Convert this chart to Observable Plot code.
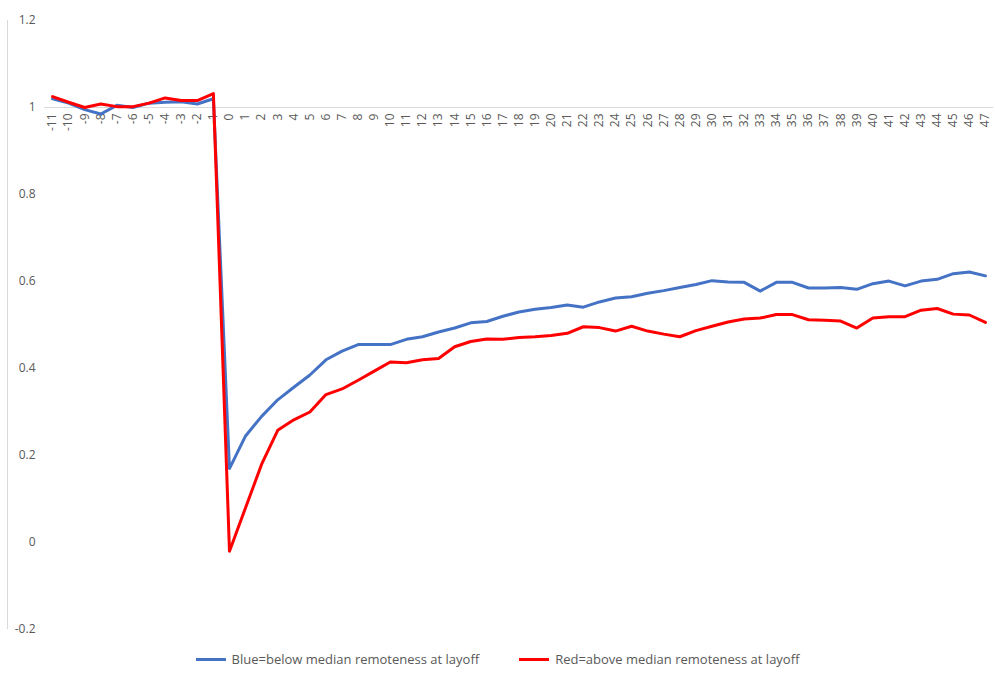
<!DOCTYPE html>
<html>
<head>
<meta charset="utf-8">
<script src="https://cdn.jsdelivr.net/npm/d3@7"></script>
<script src="https://cdn.jsdelivr.net/npm/@observablehq/plot@0.6"></script>
<style>
  body { margin: 0; background: white; font-family: "Open Sans", sans-serif; }
  #chart { position: relative; width: 995px; }
  .legend { display: flex; justify-content: center; gap: 40px; font-size: 13px; color: #595959; margin-top: 0px; }
  .legend span { display: flex; align-items: center; gap: 6px; }
  .legend i { display: inline-block; width: 30px; height: 3px; }
</style>
</head>
<body>
<div id="chart"></div>
<script>
const months = d3.range(-11, 48);
const blue = [1.02, 1.01, 0.995, 0.985, 1.005, 1.0, 1.01, 1.012, 1.013, 1.008, 1.02,
  0.17, 0.245, 0.29, 0.328, 0.357, 0.385, 0.42, 0.44, 0.455, 0.455, 0.455, 0.467, 0.473, 0.484, 0.493,
  0.505, 0.508, 0.52, 0.53, 0.536, 0.54, 0.546, 0.541, 0.553, 0.562, 0.565, 0.573, 0.579, 0.586, 0.593,
  0.602, 0.599, 0.598, 0.578, 0.598, 0.598, 0.585, 0.585, 0.586, 0.582, 0.595, 0.601, 0.59, 0.601,
  0.605, 0.618, 0.622, 0.613];
const red = [1.025, 1.012, 1.0, 1.008, 1.002, 1.002, 1.01, 1.022, 1.016, 1.016, 1.032,
  -0.02, 0.08, 0.18, 0.258, 0.282, 0.3, 0.34, 0.353, 0.373, 0.394, 0.415, 0.413, 0.42, 0.423, 0.45,
  0.462, 0.468, 0.467, 0.471, 0.473, 0.476, 0.481, 0.496, 0.494, 0.486, 0.497, 0.486, 0.479, 0.473,
  0.487, 0.497, 0.507, 0.514, 0.516, 0.524, 0.524, 0.512, 0.511, 0.509, 0.493, 0.516, 0.519, 0.519,
  0.534, 0.538, 0.525, 0.523, 0.506];
const yTicks = [-0.2, 0, 0.2, 0.4, 0.6, 0.8, 1, 1.2];

const rows = months.flatMap((m, i) => [
  {m, v: blue[i], s: "blue"},
  {m, v: red[i], s: "red"}
]);

const chart = Plot.plot({
  width: 995,
  height: 650,
  marginLeft: 44,
  marginRight: 2,
  marginTop: 20,
  marginBottom: 21,
  x: {domain: [-11.5, 47.5], axis: null},
  y: {domain: [-0.2, 1.2], ticks: yTicks, tickFormat: d => String(+d.toFixed(1))},
  style: {fontFamily: "Open Sans, sans-serif", fontSize: "12px", color: "#595959"},
  marks: [
    Plot.ruleX([-11.5], {dx: -37, stroke: "#d9d9d9"}),
    Plot.ruleY([1], {stroke: "#d9d9d9"}),
    Plot.axisY({ticks: yTicks, tickSize: 0, tickPadding: 9, label: null, tickFormat: d => String(+d.toFixed(1))}),
    Plot.text(months, {x: d => d, y: 1, text: d => String(d), rotate: -90, textAnchor: "end", dy: 6, fill: "#595959", fontSize: 12}),
    Plot.line(rows, {x: "m", y: "v", z: "s", stroke: d => d.s === "blue" ? "#4472c4" : "#ff0000", strokeWidth: 3, strokeLinejoin: "round"})
  ]
});
document.getElementById("chart").append(chart);
const leg = document.createElement("div");
leg.className = "legend";
leg.innerHTML = '<span><i style="background:#4472c4"></i>Blue=below median remoteness at layoff</span><span><i style="background:#ff0000"></i>Red=above median remoteness at layoff</span>';
document.getElementById("chart").append(leg);
</script>
</body>
</html>
